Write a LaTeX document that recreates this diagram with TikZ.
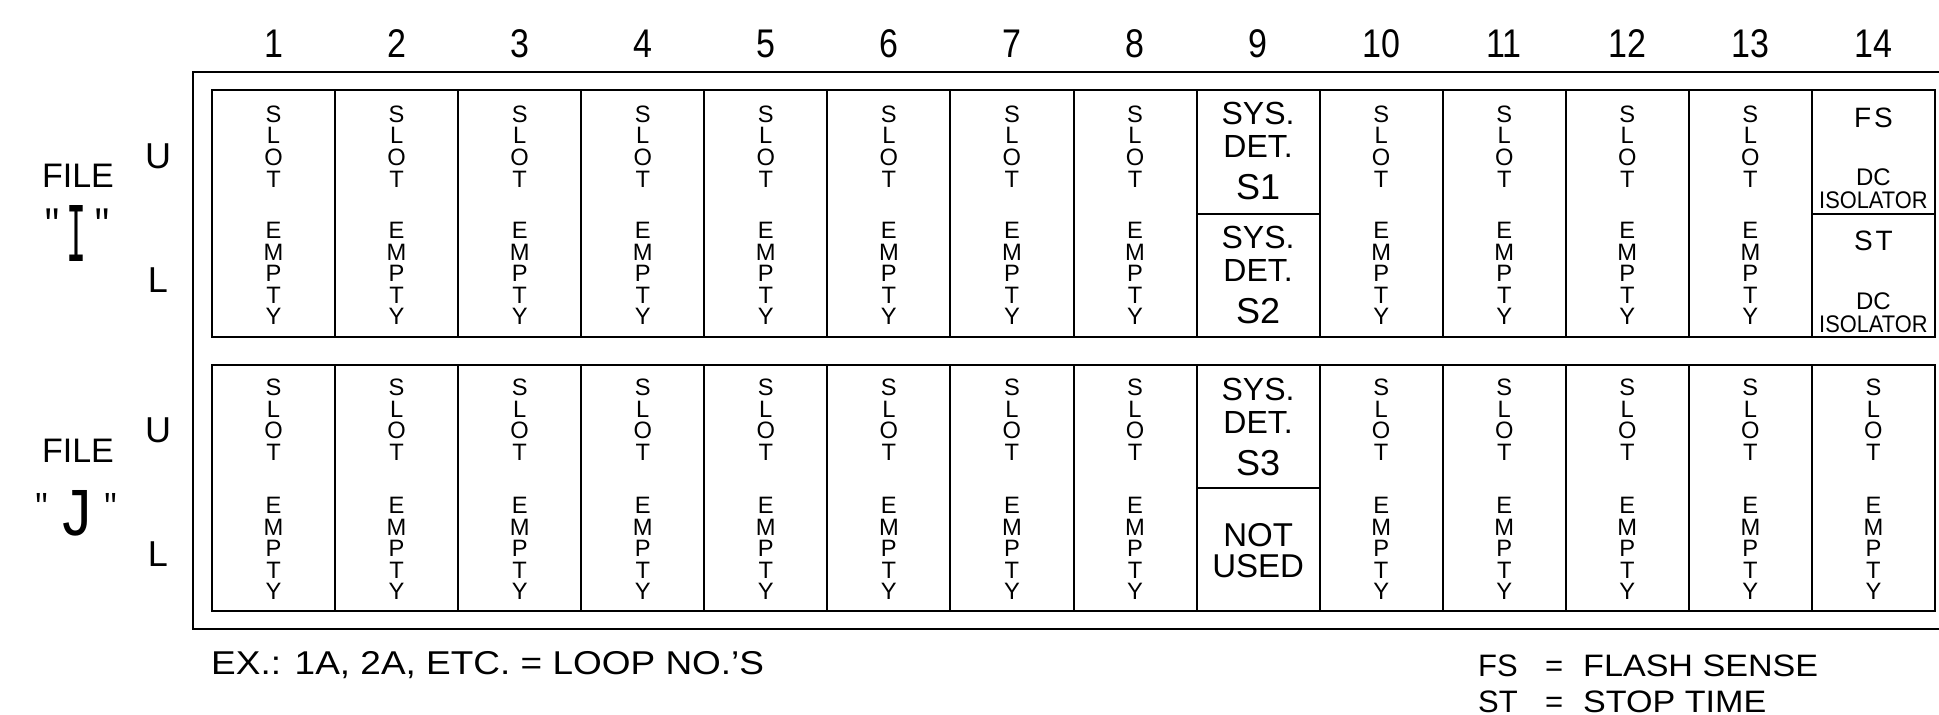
\documentclass[tikz,border=0pt]{standalone}
\usepackage{fontspec}
\usepackage{graphicx}
\setmainfont{Liberation Sans}
\setmonofont{Liberation Mono}
\newcommand\fsz[2]{\fontsize{#1}{#2}\selectfont}
\begin{document}
\begin{tikzpicture}[x=1pt,y=-1pt,
  frameline/.style={line width=2pt},
  cell/.style={draw,line width=2pt,minimum width=123.07pt,inner sep=0pt,outer sep=0pt},
  cellI/.style={cell,minimum height=247pt},
  cellJ/.style={cell,minimum height=246pt},
  halfI/.style={cell,minimum height=123.5pt},
  halfJ/.style={cell,minimum height=123pt},
  vert/.style={font=\fsz{23.7}{21.6},align=center,inner sep=0pt,anchor=north},
  colnum/.style={font=\fsz{40}{40},inner sep=0pt,anchor=base},
  sysdet/.style={font=\fsz{32}{33},align=center,inner sep=0pt,anchor=north},
  notused/.style={font=\fsz{33}{31},align=center,inner sep=0pt},
  sig/.style={font=\fsz{28}{28},inner sep=0pt,anchor=base},
  iso/.style={font=\fsz{24}{23},align=center,inner sep=0pt,anchor=south},
  lab/.style={font=\fsz{34}{34},inner sep=0pt,anchor=base},
  filename/.style={inner sep=0pt,anchor=base west,font=\ttfamily},
  ul/.style={font=\fsz{36}{36},inner sep=0pt,anchor=base},
  note/.style={font=\fsz{33}{33},inner sep=0pt,anchor=base west},
  legend/.style={font=\fsz{31}{31},inner sep=0pt,anchor=base west}
]
\useasboundingbox (0,0) rectangle (1939,715);
% outer frame (runs off the right edge)
\draw[frameline] (1960,72) -| (193,629) -- (1960,629);

% column numbers
\foreach \c in {1,...,14} {
  \pgfmathsetmacro\xc{273.535+(\c-1)*123.07}
  \node[colnum] (n\c) at (\xc,57) {\scalebox{0.85}[1]{\c}};
}

% file I, full cells
\foreach \c in {1,...,8,10,11,12,13} {
  \pgfmathsetmacro\xc{273.535+(\c-1)*123.07}
  \node[cellI] (I\c) at (\xc,213.5) {};
  \node[vert] (I\c s) at (\xc,105.5) {S\\L\\O\\T};
  \node[vert] (I\c e) at (\xc,222) {E\\M\\P\\T\\Y};
}
% file J, full cells
\foreach \c in {1,...,8,10,11,12,13,14} {
  \pgfmathsetmacro\xc{273.535+(\c-1)*123.07}
  \node[cellJ] (J\c) at (\xc,488) {};
  \node[vert] (J\c s) at (\xc,379) {S\\L\\O\\T};
  \node[vert] (J\c e) at (\xc,497) {E\\M\\P\\T\\Y};
}

% column 9
\node[halfI] (I9u) at (1258.1,151.75) {};
\node[halfI] (I9l) at (1258.1,275.25) {};
\node[sysdet] (I9ut) at (1258.1,102) {SYS.\\DET.\\[9pt]{\fsz{36}{36}S1}};
\node[sysdet] (I9lt) at (1258.1,225.5) {SYS.\\DET.\\[9pt]{\fsz{36}{36}S2}};
\node[halfJ] (J9u) at (1258.1,426.5) {};
\node[halfJ] (J9l) at (1258.1,549.5) {};
\node[sysdet] (J9ut) at (1258.1,377.5) {SYS.\\DET.\\[9pt]{\fsz{36}{36}S3}};
\node[notused] (J9lt) at (1258.1,550.5) {NOT\\USED};

% column 14, file I
\node[halfI] (I14u) at (1873.4,151.75) {};
\node[halfI] (I14l) at (1873.4,275.25) {};
\node[sig] (I14ua) at (1873.4,127) {F\kern3pt S};
\node[iso] (I14ub) at (1873.4,209) {DC\\\scalebox{0.91}[1]{ISOLATOR}};
\node[sig] (I14la) at (1873.4,250.5) {S\kern3pt T};
\node[iso] (I14lb) at (1873.4,332.5) {DC\\\scalebox{0.91}[1]{ISOLATOR}};

% left labels
\node[lab] (fileI) at (78,187) {FILE};
\node[filename] (nameI) at (40,261)
  {\makebox[24pt]{\raisebox{28pt}{\fsz{34}{34}"}}\makebox[25pt]{\resizebox{20pt}{56pt}{I}}\makebox[26pt]{\raisebox{28pt}{\fsz{34}{34}"}}};
\node[ul] (uI) at (158,168) {U};
\node[ul] (lI) at (158,292) {L};

\node[lab] (fileJ) at (78,462) {FILE};
\node[filename] (nameJ) at (30,535)
  {\makebox[23pt]{\raisebox{21pt}{\fsz{29}{29}"}}\makebox[47pt]{\resizebox{36pt}{45pt}{J}}\makebox[21pt]{\raisebox{21pt}{\fsz{29}{29}"}}};
\node[ul] (uJ) at (158,442) {U};
\node[ul] (lJ) at (158,566) {L};

% notes
\node[note] (ex) at (211,674) {\scalebox{1.12}[1]{EX.: 1A, 2A, ETC. = LOOP NO.'S}};
\node[legend] (fs) at (1478,676) {\makebox[67pt][l]{FS}\makebox[38pt][l]{=}\scalebox{1.1}[1]{FLASH SENSE}};
\node[legend] (st) at (1478,712) {\makebox[67pt][l]{ST}\makebox[38pt][l]{=}\scalebox{1.1}[1]{STOP TIME}};
\end{tikzpicture}
\end{document}
